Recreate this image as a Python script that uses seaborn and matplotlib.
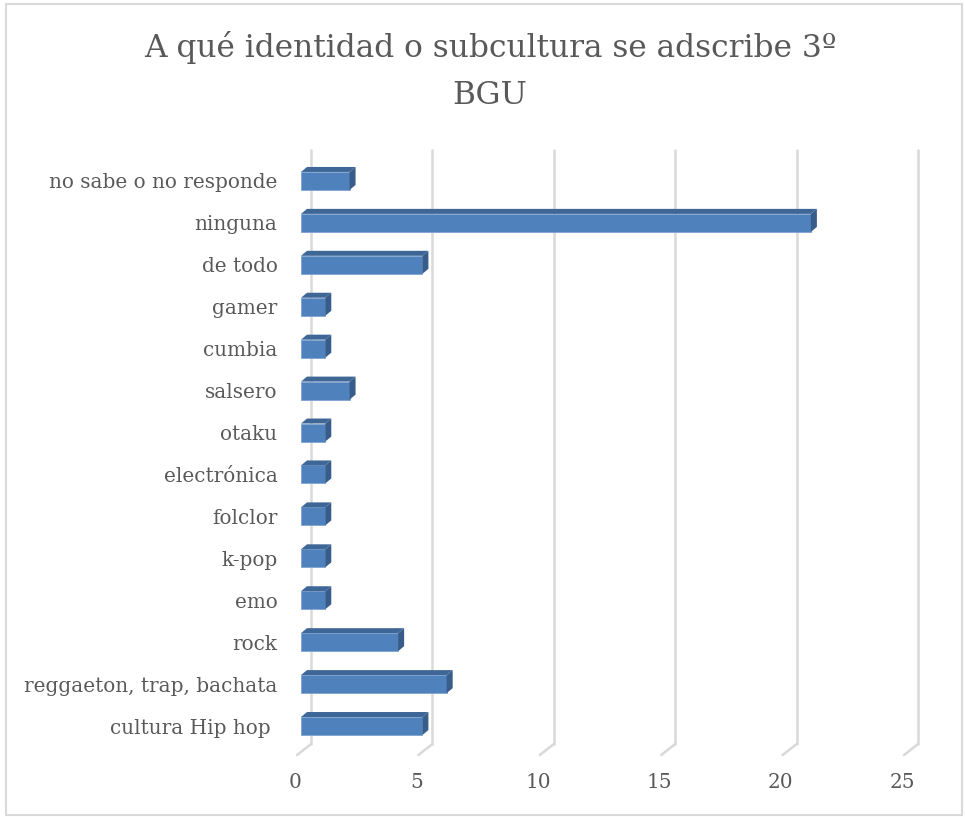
"""Horizontal 3D-style bar chart: identidad o subcultura, 3º BGU."""

import matplotlib.pyplot as plt
import matplotlib.transforms as mtransforms
from matplotlib.patches import Polygon, Rectangle
import pandas as pd
import seaborn as sns

categories = [
    "no sabe o no responde",
    "ninguna",
    "de todo",
    "gamer",
    "cumbia",
    "salsero",
    "otaku",
    "electrónica",
    "folclor",
    "k-pop",
    "emo",
    "rock",
    "reggaeton, trap, bachata",
    "cultura Hip hop ",
]
counts = [2, 21, 5, 1, 1, 2, 1, 1, 1, 1, 1, 4, 6, 5]
x_ticks = [0, 5, 10, 15, 20, 25]

FRONT = "#4F81BD"
SIDE = "#385D8A"
TOP = "#3E6797"
TEXT = "#595959"
GRID = "#D9D9D9"
FONT = ["DejaVu Serif"]

sns.set_theme(style="white")
plt.rcParams["font.family"] = FONT

df = pd.DataFrame({"category": categories, "count": counts})

W, H, DPI = 965, 817, 100
fig = plt.figure(figsize=(W / DPI, H / DPI), dpi=DPI)
ax = fig.add_axes([301 / W, 1 - 747 / H, 607 / W, 587 / H])

sns.barplot(data=df, x="count", y="category", orient="h", color=FRONT,
            width=0.43, saturation=1, edgecolor="#7FA3D0", linewidth=0.6,
            ax=ax, zorder=3)
ax.set_xlim(0, 25)
ax.set_ylim(len(categories) - 0.5, -0.5)
for s in ax.spines.values():
    s.set_visible(False)
ax.set_xlabel("")
ax.set_ylabel("")
ax.set_xticks([])
ax.tick_params(axis="y", length=0, pad=17, labelsize=14.4, labelcolor=TEXT)

# back-wall gridlines and floor slants, offset from the front plane
depth_x, depth_y = 10, 10
back = mtransforms.offset_copy(ax.get_xaxis_transform(), fig=fig,
                               x=depth_x, y=depth_y, units="dots")
for t in x_ticks:
    ax.plot([t, t], [-0.012, 1], transform=back, color=GRID, lw=1.8,
            zorder=1, clip_on=False)
    p0 = back.transform((t, -0.012))
    p1 = (p0[0] - 14, p0[1] - 11)
    ax.add_line(plt.Line2D([p0[0], p1[0]], [p0[1], p1[1]], transform=None,
                           color=GRID, lw=1.8, zorder=1, clip_on=False))
    fig.text((p1[0] - 2) / W, 1 - 783 / H, str(t), ha="center", va="center",
             fontsize=14.4, color=TEXT, family=FONT)

# 3D top and side faces built from the seaborn bar patches
dx, dy = 6, 5
for bar in list(ax.patches):
    x0, y0 = bar.get_x(), bar.get_y()
    x1, y1 = x0 + bar.get_width(), y0 + bar.get_height()
    tr = ax.transData.transform((x1, y0))
    tl = ax.transData.transform((x0, y0))
    br = ax.transData.transform((x1, y1))
    top = Polygon([tl, tr, (tr[0] + dx, tr[1] + dy), (tl[0] + dx, tl[1] + dy)],
                  closed=True, transform=None, facecolor=TOP, edgecolor="none",
                  zorder=2)
    side = Polygon([tr, br, (br[0] + dx, br[1] + dy), (tr[0] + dx, tr[1] + dy)],
                   closed=True, transform=None, facecolor=SIDE, edgecolor="none",
                   zorder=2)
    fig.patches.append(top)
    fig.patches.append(side)

fig.text(490 / W, 1 - 48 / H, "A qué identidad o subcultura se adscribe 3º",
         ha="center", va="center", fontsize=22.5, color=TEXT, family=FONT)
fig.text(490 / W, 1 - 95 / H, "BGU", ha="center", va="center",
         fontsize=22.5, color=TEXT, family=FONT)

fig.patches.append(Rectangle((6 / W, 1 - 815 / H), 956 / W, 811 / H,
                             transform=fig.transFigure, fill=False,
                             edgecolor=GRID, lw=1.5))

fig.savefig("out.png", dpi=DPI)
plt.close(fig)
